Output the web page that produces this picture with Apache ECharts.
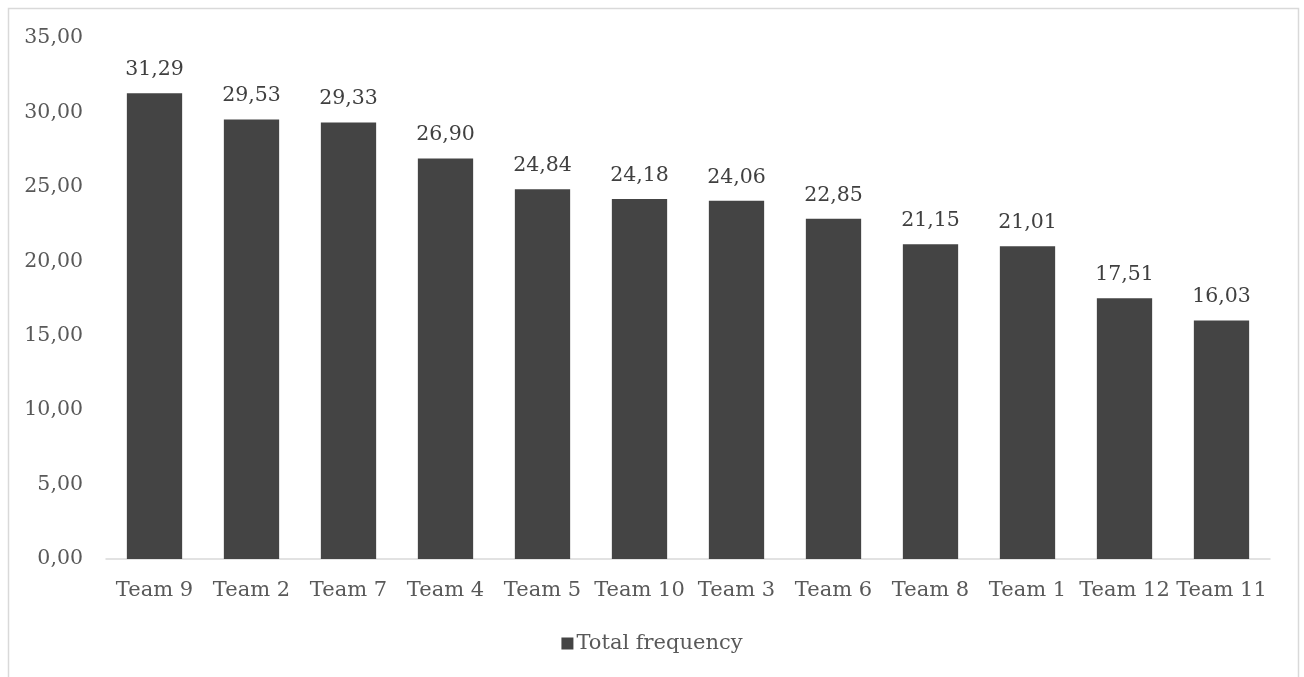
<!DOCTYPE html>
<html>
<head>
<meta charset="utf-8">
<script src="https://cdn.jsdelivr.net/npm/echarts@6/dist/echarts.min.js"></script>
<style>
  html, body { margin: 0; padding: 0; background: #ffffff; }
  #chart { width: 1304px; height: 677px; }
</style>
</head>
<body>
<div id="chart"></div>
<script>
// Team names, ordered by total frequency (descending)
const teams = ['Team 9', 'Team 2', 'Team 7', 'Team 4', 'Team 5', 'Team 10', 'Team 3', 'Team 6', 'Team 8', 'Team 1', 'Team 12', 'Team 11'];
// Total frequency per team
const totalFrequency = [31.29, 29.53, 29.33, 26.90, 24.84, 24.18, 24.06, 22.85, 21.15, 21.01, 17.51, 16.03];
// Value axis range
const yMin = 0, yMax = 35, yStep = 5;

const FONT = '"DejaVu Serif", serif';
const comma = v => v.toFixed(2).replace('.', ',');

const chart = echarts.init(document.getElementById('chart'), null, { renderer: 'canvas' });
chart.setOption({
  backgroundColor: '#ffffff',
  animation: false,
  textStyle: { fontFamily: FONT },
  graphic: [{
    type: 'rect',
    shape: { x: 8.5, y: 8.5, width: 1290, height: 700 },
    style: { fill: 'none', stroke: '#d9d9d9', lineWidth: 1.5 },
    silent: true, z: -1
  }],
  grid: { left: 106, right: 34, top: 38, bottom: 118, containLabel: false },
  legend: {
    left: 'center', top: 628,
    itemWidth: 12, itemHeight: 12, itemGap: 8,
    icon: 'rect',
    textStyle: { fontFamily: FONT, fontSize: 21, color: '#595959', padding: [0, 0, 0, -2] },
    data: ['Total frequency']
  },
  xAxis: {
    type: 'category',
    data: teams,
    axisLine: { show: true, lineStyle: { color: '#d9d9d9', width: 1.5 } },
    axisTick: { show: false },
    axisLabel: { fontFamily: FONT, fontSize: 21, color: '#595959', margin: 21, interval: 0 }
  },
  yAxis: {
    type: 'value',
    min: yMin, max: yMax, interval: yStep,
    axisLine: { show: false },
    axisTick: { show: false },
    splitLine: { show: false },
    axisLabel: { fontFamily: FONT, fontSize: 20.5, color: '#595959', margin: 23, formatter: v => comma(v) }
  },
  series: [{
    name: 'Total frequency',
    type: 'bar',
    data: totalFrequency,
    barWidth: '57%',
    itemStyle: { color: '#444444' },
    label: {
      show: true, position: 'top', distance: 13,
      fontFamily: FONT, fontSize: 20.5, color: '#404040',
      formatter: p => comma(p.value)
    }
  }]
});
</script>
</body>
</html>
